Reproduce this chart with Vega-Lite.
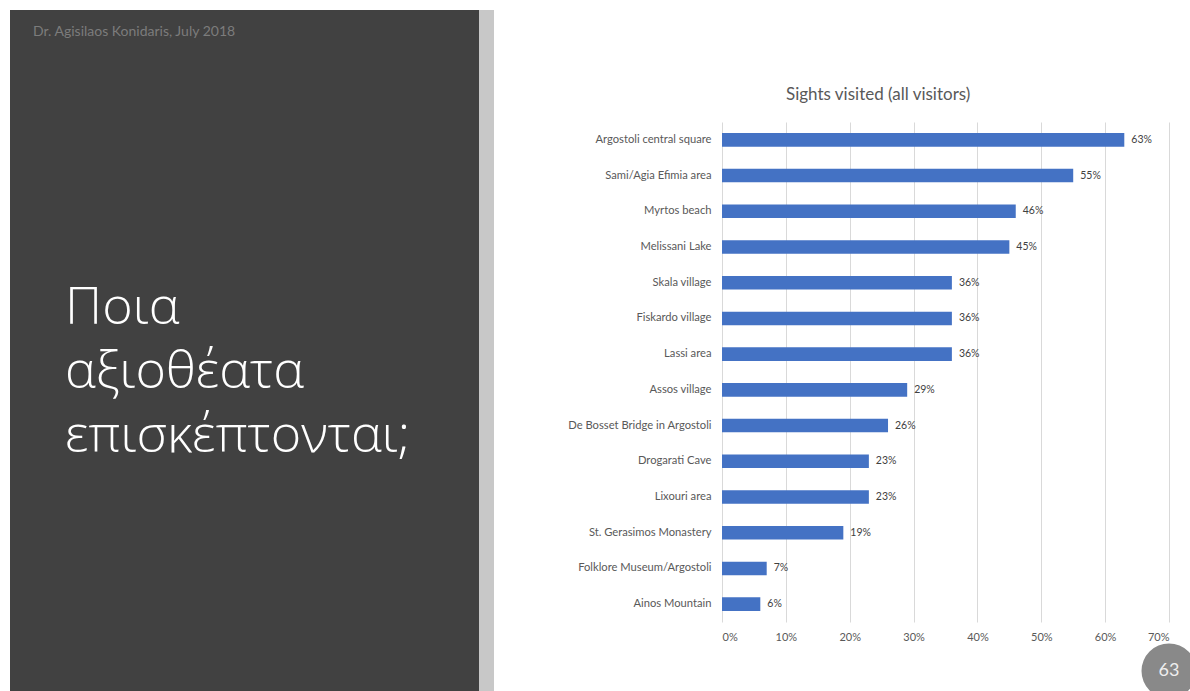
{
  "$schema": "https://vega.github.io/schema/vega-lite/v6.json",
  "background": "white",
  "padding": {"left": 10, "top": 10, "right": 0, "bottom": 0},
  "spacing": 0,
  "config": {"view": {"stroke": null}, "font": "Lato"},
  "hconcat": [
    {
      "width": 469,
      "height": 681,
      "view": {"fill": "#414141", "stroke": null},
      "title": {
        "text": "Dr. Agisilaos Konidaris, July 2018",
        "anchor": "start",
        "frame": "group",
        "offset": -29,
        "dx": 23,
        "fontSize": 14,
        "fontWeight": "normal",
        "font": "Lato",
        "color": "#7c7c7c"
      },
      "data": {"values": [
        {"line": "Ποια"},
        {"line": "αξιοθέατα"},
        {"line": "επισκέπτονται;"}
      ]},
      "mark": {"type": "text", "align": "left", "baseline": "alphabetic", "dx": 55, "fontSize": 52, "font": "Open Sans", "fontWeight": 300, "color": "#ffffff"},
      "encoding": {
        "x": {"datum": 0, "type": "quantitative", "scale": {"domain": [0, 1]}, "axis": null},
        "y": {"field": "line", "type": "ordinal", "sort": null, "scale": {"type": "point", "range": [314, 442], "padding": 0}, "axis": null},
        "text": {"field": "line"}
      }
    },
    {
      "width": 15,
      "height": 681,
      "view": {"fill": "#c8c8c8", "stroke": null},
      "data": {"values": [{}]},
      "mark": {"type": "rect", "color": "#c8c8c8"},
      "encoding": {}
    },
    {
      "spacing": 0,
      "vconcat": [
        {
          "width": 447,
          "height": 112,
          "title": {
            "text": "Sights visited (all visitors)",
            "anchor": "start",
            "frame": "group",
            "offset": -94,
            "dx": 64,
            "fontSize": 17,
            "fontWeight": "normal",
            "font": "Lato",
            "color": "#595959"
          },
          "data": {"values": []},
          "mark": {"type": "text"},
          "encoding": {}
        },
        {
          "width": 447,
          "height": 500,
          "data": {"values": [
            {"sight": "Argostoli central square", "share": 0.63},
            {"sight": "Sami/Agia Efimia area", "share": 0.55},
            {"sight": "Myrtos beach", "share": 0.46},
            {"sight": "Melissani Lake", "share": 0.45},
            {"sight": "Skala village", "share": 0.36},
            {"sight": "Fiskardo village", "share": 0.36},
            {"sight": "Lassi area", "share": 0.36},
            {"sight": "Assos village", "share": 0.29},
            {"sight": "De Bosset Bridge in Argostoli", "share": 0.26},
            {"sight": "Drogarati Cave", "share": 0.23},
            {"sight": "Lixouri area", "share": 0.23},
            {"sight": "St. Gerasimos Monastery", "share": 0.19},
            {"sight": "Folklore Museum/Argostoli", "share": 0.07},
            {"sight": "Ainos Mountain", "share": 0.06}
          ]},
          "encoding": {
            "y": {
              "field": "sight", "type": "nominal", "sort": null,
              "scale": {"paddingInner": 0.62, "paddingOuter": 0.31},
              "axis": {"title": null, "domain": false, "ticks": false, "labelPadding": 11, "labelFontSize": 11.2, "labelColor": "#595959", "labelFont": "Lato", "labelLimit": 0, "minExtent": 228}
            },
            "x": {
              "field": "share", "type": "quantitative",
              "scale": {"domain": [0, 0.7]},
              "axis": {"title": null, "format": "%", "values": [0, 0.1, 0.2, 0.3, 0.4, 0.5, 0.6, 0.7], "grid": true, "gridColor": "#d9d9d9", "domain": false, "ticks": false, "labelPadding": 9, "labelFontSize": 11, "labelColor": "#595959", "labelFont": "Lato", "minExtent": 21}
            }
          },
          "layer": [
            {
              "mark": {"type": "bar", "color": "#4472C4"}
            },
            {
              "mark": {"type": "text", "align": "left", "baseline": "middle", "dx": 7, "fontSize": 10.5, "font": "Lato", "color": "#404040"},
              "encoding": {
                "text": {"field": "share", "format": ".0%"}
              }
            }
          ]
        },
        {
          "width": 447,
          "height": 46,
          "data": {"values": [{"page": "63"}]},
          "encoding": {
            "x": {"datum": 0.7, "type": "quantitative", "scale": {"domain": [0, 0.7]}, "axis": null},
            "y": {"field": "page", "type": "nominal", "axis": null}
          },
          "layer": [
            {
              "mark": {"type": "point", "filled": true, "size": 3025, "color": "#898989", "opacity": 1}
            },
            {
              "mark": {"type": "text", "fontSize": 18, "font": "Lato", "color": "#eeeeee", "baseline": "middle"},
              "encoding": {"text": {"field": "page"}}
            }
          ]
        }
      ]
    }
  ]
}
